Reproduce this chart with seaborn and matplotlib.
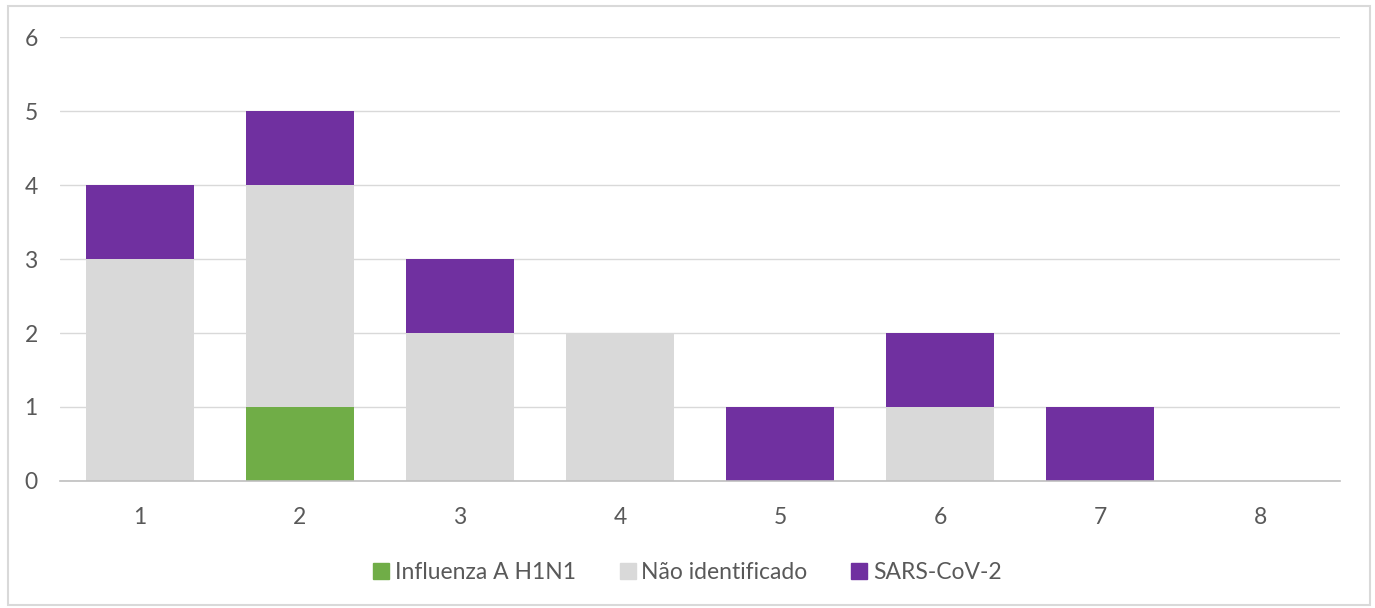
import numpy as np
import pandas as pd
import seaborn as sns
import matplotlib.pyplot as plt
from matplotlib.patches import Patch, Rectangle

sns.set_theme(style="white")
plt.rcParams['font.family'] = ['Lato', 'DejaVu Sans']

categories = ['1', '2', '3', '4', '5', '6', '7', '8']
influenza = [0, 1, 0, 0, 0, 0, 0, 0]
nao_ident = [3, 3, 2, 2, 0, 1, 0, 0]
sars = [1, 1, 1, 0, 1, 1, 1, 0]

series = ['Influenza A H1N1', 'Não identificado', 'SARS-CoV-2']
colors = ['#70ad47', '#d9d9d9', '#7030a0']

df = pd.DataFrame({'cat': categories, 'inf': influenza, 'nao': nao_ident, 'sars': sars})
df['c1'] = df['inf']
df['c2'] = df['inf'] + df['nao']
df['c3'] = df['c2'] + df['sars']

fig = plt.figure(figsize=(13.75, 6.08), dpi=100)
fig.patches.append(Rectangle((0.006, 0.005), 0.99, 0.985, transform=fig.transFigure,
                             fill=False, edgecolor='#d9d9d9', linewidth=1.5))
ax = fig.add_axes([0.0436, 0.2089, 0.931, 0.7302])

# stacked bars: draw cumulative totals, tallest first
for col, c in zip(['c3', 'c2', 'c1'], colors[::-1]):
    sns.barplot(data=df, x='cat', y=col, color=c, width=0.67, saturation=1,
                linewidth=0, ax=ax, zorder=3)

ax.set_ylim(0, 6)
ax.set_xlim(-0.5, 7.5)
ax.set_yticks(range(0, 7))
ax.yaxis.grid(True, color='#d9d9d9', linewidth=1, zorder=0)
ax.set_axisbelow(True)
for s in ['top', 'right', 'left']:
    ax.spines[s].set_visible(False)
ax.spines['bottom'].set_color('#bfbfbf')
ax.spines['bottom'].set_linewidth(1.2)
ax.spines['bottom'].set_zorder(4)
ax.set_xlabel('')
ax.set_ylabel('')
ax.tick_params(axis='both', length=0, labelsize=16.5, labelcolor='#595959')
ax.tick_params(axis='x', pad=19)
ax.tick_params(axis='y', pad=16)

handles = [Patch(color=c, label=s) for s, c in zip(series, colors)]
fig.legend(handles=handles, loc='center', bbox_to_anchor=(0.5, 0.058), ncol=3,
           frameon=False, fontsize=16.5, labelcolor='#595959', handlelength=0.7,
           handleheight=0.7, handletextpad=0.25, columnspacing=1.9)

fig.savefig('out.png', dpi=100)
